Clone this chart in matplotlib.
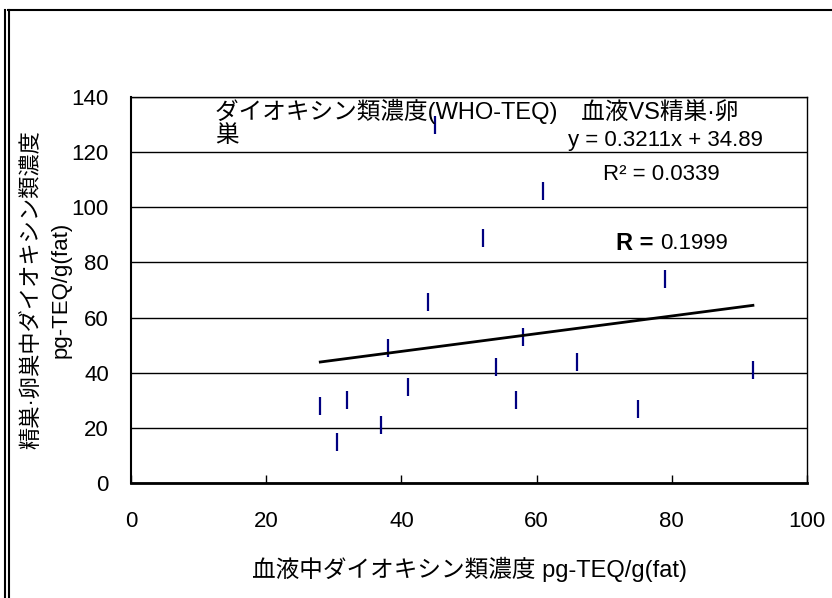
import matplotlib
matplotlib.use("Agg")
import matplotlib.pyplot as plt
from matplotlib.lines import Line2D

plt.rcParams['font.family'] = ['Liberation Sans', 'Noto Sans CJK JP']

# blood vs testis/ovary dioxin concentration (pg-TEQ/g fat)
blood = [28, 30.4, 32, 37, 38, 41, 44, 45, 52, 54, 57, 58, 61, 66, 75, 79, 92]
gonad = [28, 15, 30, 21, 49, 35, 65.5, 130, 89, 42, 30, 53, 106, 44, 27, 74, 41]

slope = 0.3211
intercept = 34.89
r2 = 0.0339
r = 0.1999

x_ticks = [0, 20, 40, 60, 80, 100]
y_ticks = [0, 20, 40, 60, 80, 100, 120, 140]

W, H = 832, 598
fig = plt.figure(figsize=(W / 100, H / 100), dpi=100)
ax = fig.add_axes([131 / W, 1 - 483 / H, 676 / W, 386 / H])

ax.plot(blood, gonad, linestyle='none', marker='|', markersize=13,
        markeredgewidth=1.6, color='#000080', zorder=3)

# linear trend line over the data range
x0, x1 = min(blood), max(blood)
ax.plot([x0, x1], [slope * x0 + intercept, slope * x1 + intercept],
        color='black', linewidth=2, zorder=4)

ax.set_xlim(0, 100)
ax.set_ylim(0, 140)
ax.set_xticks(x_ticks)
ax.set_yticks(y_ticks)
ax.tick_params(axis='x', direction='in', length=6, width=1, pad=20, labelsize=16)
ax.tick_params(axis='y', length=0, pad=16, labelsize=16)
ax.grid(axis='y', color='black', linewidth=1)
ax.set_axisbelow(True)
for s in ['top', 'right']:
    ax.spines[s].set_linewidth(1)
ax.spines['left'].set_linewidth(1.5)
ax.spines['bottom'].set_linewidth(2)

ax.set_xlabel('血液中ダイオキシン類濃度 pg-TEQ/g(fat)', fontsize=17, labelpad=18)
ax.set_ylabel('精巣·卵巣中ダイオキシン類濃度\npg-TEQ/g(fat)', fontsize=16,
              labelpad=0, linespacing=1.5)

# title wraps onto a second line inside the plot
fig.text(215 / W, 1 - 99 / H, 'ダイオキシン類濃度(WHO-TEQ)\u3000血液VS精巣·卵',
         fontsize=17, ha='left', va='top')
fig.text(215 / W, 1 - 125 / H, '巣', fontsize=17, ha='left', va='top')
fig.text(763 / W, 1 - 140 / H, f'y = {slope}x + {intercept}',
         fontsize=16, ha='right', va='center')
fig.text(603 / W, 1 - 175 / H, f'R² = {r2}', fontsize=16, ha='left', va='center')
fig.text(616 / W, 1 - 243 / H, 'R =', fontsize=17, fontweight='bold',
         ha='left', va='center')
fig.text(728 / W, 1 - 243 / H, f'{r}', fontsize=16, ha='right', va='center')

# outer frame: double line on the left, single line on top
fig.add_artist(Line2D([5 / W, 5 / W], [0, 1 - 10 / H], color='black', linewidth=1.5,
                      transform=fig.transFigure))
fig.add_artist(Line2D([9 / W, 9 / W], [0, 1 - 10 / H], color='black', linewidth=1.5,
                      transform=fig.transFigure))
fig.add_artist(Line2D([8 / W, 1], [1 - 9.5 / H, 1 - 9.5 / H], color='black',
                      linewidth=1.5, transform=fig.transFigure))

fig.savefig('out.png', dpi=100)
